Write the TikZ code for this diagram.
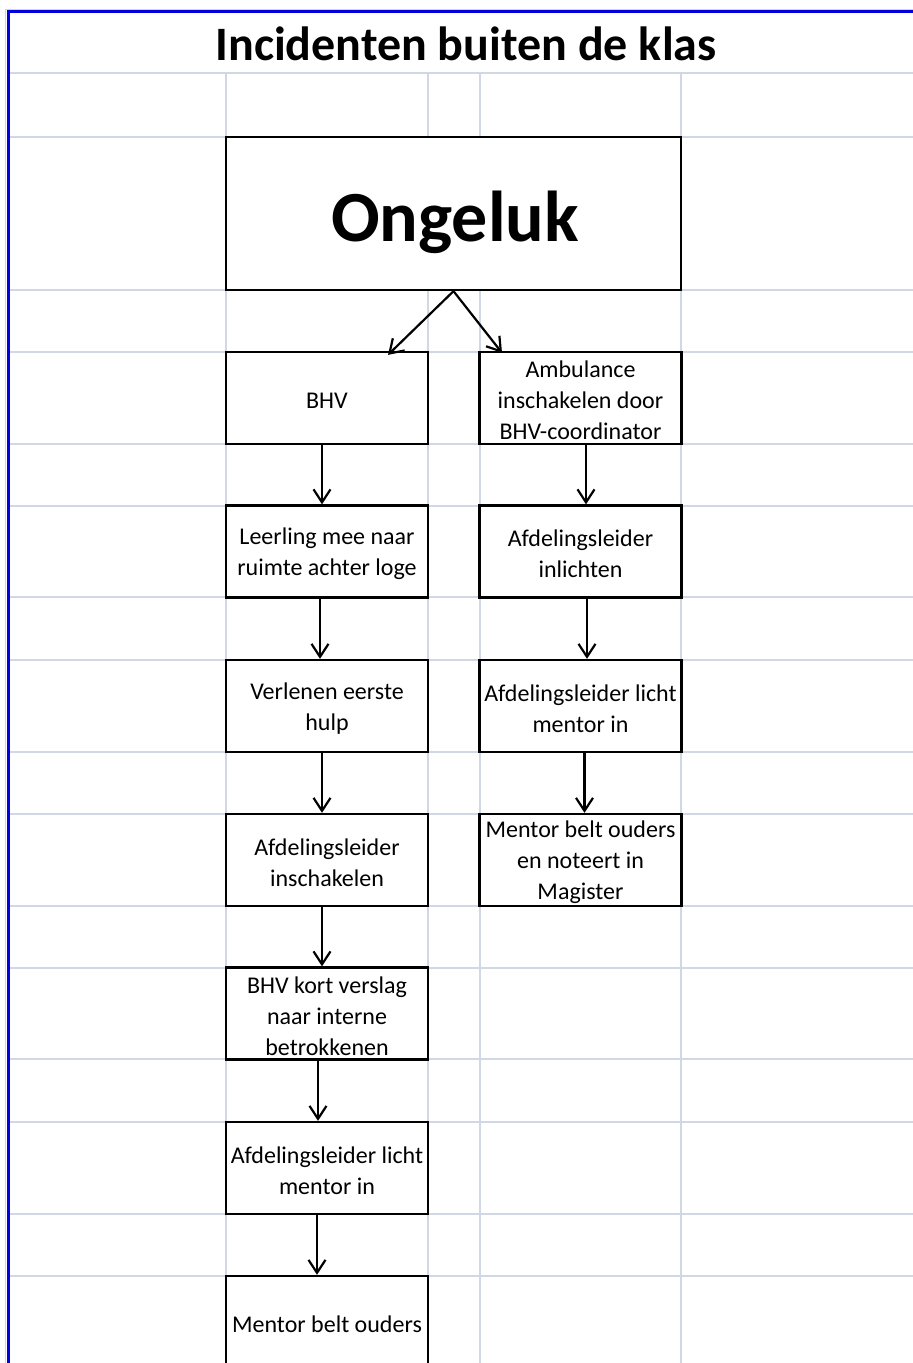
\documentclass[tikz,border=0pt]{standalone}
\usepackage{fontspec}
\setmainfont{Carlito}
\usetikzlibrary{arrows.meta}
\definecolor{gridc}{HTML}{D0D7E5}
\definecolor{selblue}{HTML}{0000E0}
\definecolor{edgegray}{HTML}{D4D4D4}
\tikzset{
  gridline/.style={draw=gridc, line width=2pt},
  stepbox/.style={draw=black, fill=white, line width=2.3pt, minimum width=202pt,
    minimum height=92pt, inner sep=0pt},
  steptext/.style={align=center, inner sep=0pt, yshift=-2.5pt,
    font=\fontsize{24}{31}\selectfont},
  flow/.style={line width=2.2pt, -{Straight Barb[length=13pt,width=17pt,line width=2.2pt]}},
}
\begin{document}
\begin{tikzpicture}[x=1pt,y=-1pt]
\useasboundingbox (0,0) rectangle (913,1363);
\fill[white] (0,0) rectangle (913,1363);
% sheet grid
\foreach \y in {73,137,290,352,444,506,597,660,752,814,906,968,1059,1122,1214,1276}
  \draw[gridline] (8,\y) -- (913,\y);
\foreach \x in {226,428,480,681}
  \draw[gridline] (\x,73) -- (\x,1363);
% sheet edge and selection frame
\draw[edgegray, line width=1.5pt] (5.5,1363) -- (5.5,9.5) -- (913,9.5);
\draw[selblue, line width=3pt] (8.2,1363) -- (8.2,11.8) -- (913,11.8);
% title
\node[anchor=base, font=\fontsize{48}{58}\selectfont\bfseries] (title) at (466,60) {Incidenten buiten de klas};
% boxes
\node[stepbox, minimum width=455pt, minimum height=153pt] (ong) at (453.5,213.5) {};
\node[anchor=base, font=\fontsize{72}{86}\selectfont\bfseries] (ong-t) at (455,241) {Ongeluk};
\node[stepbox] (bhv)   at (327,398) {};
\node[stepbox] (amb)   at (580.5,398) {};
\node[stepbox] (leer)  at (327,551.5) {};
\node[stepbox] (afdr1) at (580.5,551.5) {};
\node[stepbox] (verl)  at (327,706) {};
\node[stepbox] (afdr2) at (580.5,706) {};
\node[stepbox] (afdl1) at (327,860) {};
\node[stepbox] (mentr) at (580.5,860) {};
\node[stepbox] (versl) at (327,1013.5) {};
\node[stepbox] (afdl2) at (327,1168) {};
\node[stepbox] (mentl) at (327,1322) {};
% box texts
\node[steptext] (bhv-t)   at (bhv)   {BHV};
\node[steptext] (amb-t)   at (amb)   {Ambulance\\inschakelen door\\BHV-coordinator};
\node[steptext] (leer-t)  at (leer)  {Leerling mee naar\\ruimte achter loge};
\node[steptext] (afdr1-t) at (afdr1) {Afdelingsleider\\inlichten};
\node[steptext] (verl-t)  at (verl)  {Verlenen eerste\\hulp};
\node[steptext] (afdr2-t) at (afdr2) {Afdelingsleider licht\\mentor in};
\node[steptext] (afdl1-t) at (afdl1) {Afdelingsleider\\inschakelen};
\node[steptext] (mentr-t) at (mentr) {Mentor belt ouders\\en noteert in\\Magister};
\node[steptext] (versl-t) at (versl) {BHV kort verslag\\naar interne\\betrokkenen};
\node[steptext] (afdl2-t) at (afdl2) {Afdelingsleider licht\\mentor in};
\node[steptext] (mentl-t) at (mentl) {Mentor belt ouders};
% connectors
\coordinate (apex) at (ong.south);
\draw[flow] (apex) -- ([xshift=61pt,yshift=-4pt]bhv.north);
\draw[flow] (apex) -- ([xshift=-78.5pt,yshift=-2pt]amb.north);
\draw[flow] ([xshift=-5pt]bhv.south) -- ([xshift=-5pt]leer.north);
\draw[flow] ([xshift=-7pt]leer.south) -- ([xshift=-7pt]verl.north);
\draw[flow] ([xshift=-5pt]verl.south) -- ([xshift=-5pt]afdl1.north);
\draw[flow] ([xshift=-5pt]afdl1.south) -- ([xshift=-5pt]versl.north);
\draw[flow] ([xshift=-9pt]versl.south) -- ([xshift=-9pt]afdl2.north);
\draw[flow] ([xshift=-10pt]afdl2.south) -- ([xshift=-10pt]mentl.north);
\draw[flow] ([xshift=5.5pt]amb.south) -- ([xshift=5.5pt]afdr1.north);
\draw[flow] ([xshift=6.5pt]afdr1.south) -- ([xshift=6.5pt]afdr2.north);
\draw[flow] ([xshift=4pt]afdr2.south) -- ([xshift=4pt]mentr.north);
\end{tikzpicture}
\end{document}
